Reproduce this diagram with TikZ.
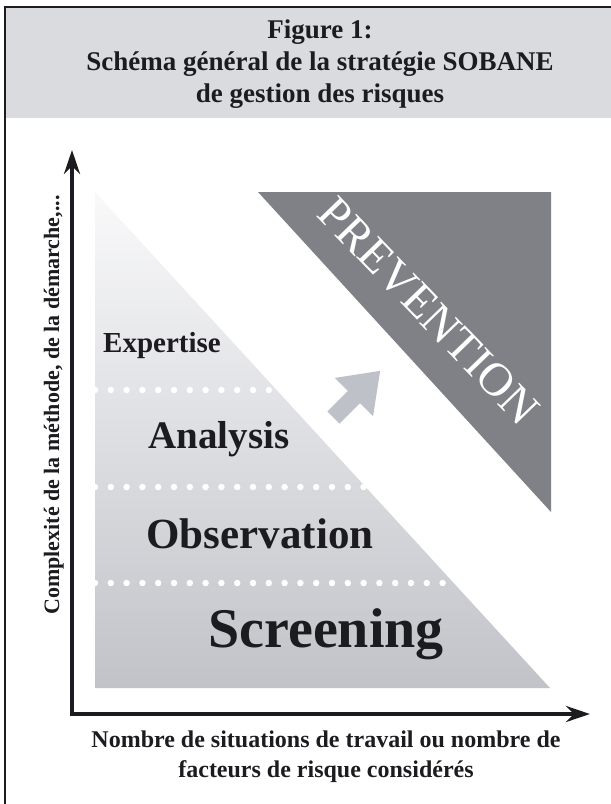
\documentclass[tikz,border=0pt]{standalone}
\usepackage{fontspec}
\setmainfont{Liberation Serif}
\usetikzlibrary{arrows.meta}

\definecolor{ink}{RGB}{28,28,32}
\definecolor{headgray}{RGB}{218,219,223}
\definecolor{darktri}{RGB}{128,129,134}
\definecolor{arrowgray}{RGB}{190,193,200}
\definecolor{tritop}{RGB}{249,249,250}
\definecolor{tribot}{RGB}{193,195,201}

\tikzstyle{lbl} = [inner sep=0pt, anchor=base, text=ink, font=\bfseries]
\tikzstyle{frame} = [draw=ink, line width=1.5pt]
\tikzstyle{axis} = [draw=ink, line width=4.5pt, arrows={Stealth[length=24pt,width=16pt]-Stealth[length=24pt,width=16pt]}]
\tikzstyle{dots} = [white, line width=6.5pt, line cap=round, dash pattern=on 0pt off 15.8pt]

\begin{document}
\begin{tikzpicture}[x=1pt,y=-1pt]
	\useasboundingbox (0,0) rectangle (611,804);
	\clip (0,0) rectangle (611,804);
	% header and frame
	\fill[headgray] (5,7) rectangle (640,118);
	\draw[frame] (5,7) rectangle (640,830);
	\node[lbl] (fig) at (320,38) {\fontsize{27}{32}\selectfont Figure 1:};
	\node[lbl] (titleA) at (320,70) {\fontsize{27}{32}\selectfont Schéma général de la stratégie SOBANE};
	\node[lbl] (titleB) at (320,102) {\fontsize{27}{32}\selectfont de gestion des risques};
	% triangles
	\shade[top color=tritop, bottom color=tribot] (95,192) -- (95,688) -- (550,688) -- cycle;
	\fill[darktri] (258,192) -- (551,192) -- (551,512) -- cycle;
	\begin{scope}
		\clip (95,192) -- (95,688) -- (550,688) -- cycle;
		\foreach \y in {390,487,583}
			\draw[dots] (95,\y) -- (560,\y);
	\end{scope}
	\fill[arrowgray, shift={(354,397)}, rotate=45] (-29,-8.5) -- (0,-8.5) -- (0,-27) -- (37,0) -- (0,27) -- (0,8.5) -- (-29,8.5) -- cycle;
	% levels
	\node[lbl, anchor=base west] (expertise) at (103,352) {\fontsize{29}{34}\selectfont Expertise};
	\node[lbl] (analysis) at (219,448) {\fontsize{39}{46}\selectfont Analysis};
	\node[lbl] (observation) at (260,548) {\fontsize{43}{50}\selectfont Observation};
	\node[lbl] (screening) at (326,647) {\fontsize{56}{64}\selectfont Screening};
	\node[inner sep=0pt, text=white, rotate=-46] (prevention) at (429,311) {\fontsize{47}{54}\selectfont PREVENTION};
	% axes
	\coordinate (O) at (72,714);
	\coordinate (ytip) at (72,150);
	\coordinate (xtip) at (590,714);
	\draw[axis] (ytip) -- (O) -- (xtip);
	\node[lbl, rotate=90] (ylabel) at (59,405) {\fontsize{22}{26}\selectfont Complexité de la méthode, de la démarche,...};
	\node[lbl] (xlabelA) at (326,747) {\fontsize{24}{30}\selectfont Nombre de situations de travail ou nombre de};
	\node[lbl] (xlabelB) at (326,777) {\fontsize{24}{30}\selectfont facteurs de risque considérés};
\end{tikzpicture}
\end{document}
